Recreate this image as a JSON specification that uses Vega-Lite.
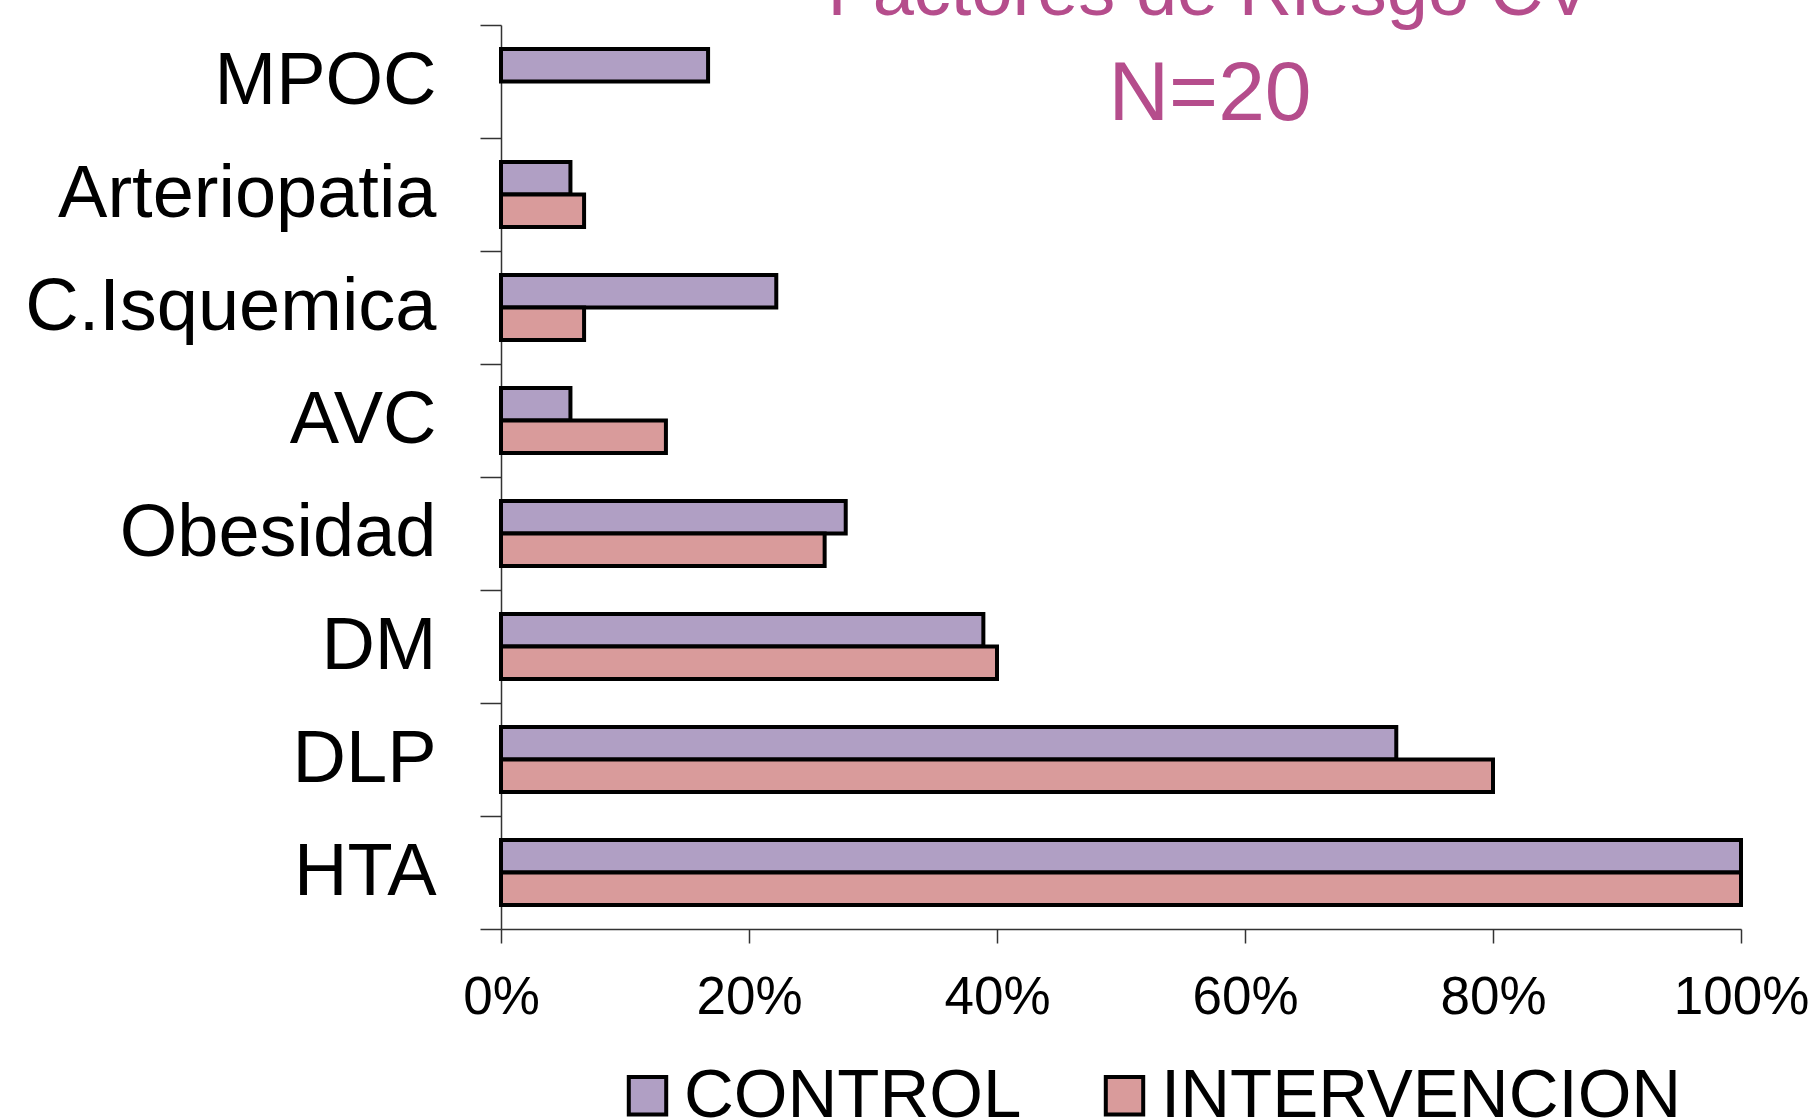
{
  "$schema": "https://vega.github.io/schema/vega-lite/v6.json",
  "width": 1240,
  "height": 904,
  "autosize": {"type": "none"},
  "padding": {"left": 501, "top": 25, "right": 74, "bottom": 190},
  "background": "white",
  "title": {
    "text": "Factores de Riesgo CV",
    "subtitle": "N=20",
    "font": "Liberation Sans",
    "fontSize": 74,
    "fontWeight": "normal",
    "color": "#B54D8C",
    "subtitleFont": "Liberation Sans",
    "subtitleFontSize": 84,
    "subtitleFontWeight": "normal",
    "subtitleColor": "#B54D8C",
    "subtitlePadding": 23,
    "anchor": "middle",
    "offset": -150,
    "dx": 89
  },
  "data": {
    "values": [
      {"factor": "MPOC", "group": "CONTROL", "pct": 16.7},
      {"factor": "Arteriopatia", "group": "CONTROL", "pct": 5.6},
      {"factor": "Arteriopatia", "group": "INTERVENCION", "pct": 6.7},
      {"factor": "C.Isquemica", "group": "CONTROL", "pct": 22.2},
      {"factor": "C.Isquemica", "group": "INTERVENCION", "pct": 6.7},
      {"factor": "AVC", "group": "CONTROL", "pct": 5.6},
      {"factor": "AVC", "group": "INTERVENCION", "pct": 13.3},
      {"factor": "Obesidad", "group": "CONTROL", "pct": 27.8},
      {"factor": "Obesidad", "group": "INTERVENCION", "pct": 26.1},
      {"factor": "DM", "group": "CONTROL", "pct": 38.9},
      {"factor": "DM", "group": "INTERVENCION", "pct": 40.0},
      {"factor": "DLP", "group": "CONTROL", "pct": 72.2},
      {"factor": "DLP", "group": "INTERVENCION", "pct": 80.0},
      {"factor": "HTA", "group": "CONTROL", "pct": 100},
      {"factor": "HTA", "group": "INTERVENCION", "pct": 100}
    ]
  },
  "mark": {"type": "bar", "stroke": "black", "strokeWidth": 4},
  "encoding": {
    "y": {
      "field": "factor",
      "type": "nominal",
      "sort": ["MPOC", "Arteriopatia", "C.Isquemica", "AVC", "Obesidad", "DM", "DLP", "HTA"],
      "scale": {"paddingInner": 0, "paddingOuter": 0},
      "axis": {
        "title": null,
        "tickBand": "extent",
        "tickSize": 21,
        "tickColor": "#333333",
        "tickWidth": 1.5,
        "domainColor": "#333333",
        "domainWidth": 1.5,
        "labelFont": "Liberation Sans",
        "labelFontSize": 74,
        "labelColor": "black",
        "labelPadding": 44,
        "labelLimit": 600
      }
    },
    "yOffset": {
      "field": "group",
      "type": "nominal",
      "sort": ["CONTROL", "INTERVENCION"],
      "scale": {"paddingInner": 0, "paddingOuter": 0.745}
    },
    "x": {
      "field": "pct",
      "type": "quantitative",
      "scale": {"domain": [0, 100], "nice": false},
      "axis": {
        "title": null,
        "grid": false,
        "values": [0, 20, 40, 60, 80, 100],
        "labelExpr": "datum.value + '%'",
        "tickSize": 14,
        "tickColor": "#333333",
        "tickWidth": 1.5,
        "domainColor": "#333333",
        "domainWidth": 1.5,
        "labelFont": "Liberation Sans",
        "labelFontSize": 53,
        "labelColor": "black",
        "labelPadding": 28,
        "labelOverlap": false,
        "labelFlush": false
      }
    },
    "color": {
      "field": "group",
      "type": "nominal",
      "scale": {"domain": ["CONTROL", "INTERVENCION"], "range": ["#B09FC4", "#D99B9B"]},
      "legend": {
        "title": null,
        "orient": "none",
        "direction": "horizontal",
        "legendX": 112,
        "legendY": 1036,
        "symbolType": "square",
        "symbolSize": 1400,
        "symbolStrokeColor": "black",
        "symbolStrokeWidth": 4,
        "symbolOpacity": 1,
        "labelFont": "Liberation Sans",
        "labelFontSize": 69,
        "labelColor": "black",
        "labelOffset": 2,
        "columnPadding": 68,
        "labelLimit": 800
      }
    }
  },
  "config": {"view": {"stroke": null}}
}
